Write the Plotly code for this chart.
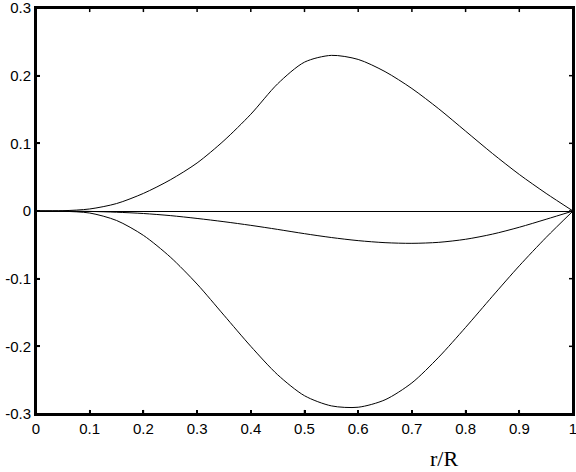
import plotly.graph_objects as go

r = [0.0, 0.05, 0.1, 0.15, 0.2, 0.25, 0.3, 0.35, 0.4, 0.45, 0.5, 0.55, 0.6,
     0.65, 0.7, 0.75, 0.8, 0.85, 0.9, 0.95, 1.0]
upper = [0.0, 0.0004, 0.003, 0.011, 0.026, 0.046, 0.071, 0.104, 0.143, 0.188,
         0.220, 0.230, 0.224, 0.206, 0.181, 0.151, 0.118, 0.085, 0.054, 0.026, 0.0]
middle = [0.0, -0.0001, -0.0006, -0.0018, -0.0037, -0.0068, -0.011, -0.0158, -0.0212,
          -0.0272, -0.0335, -0.0392, -0.0438, -0.0468, -0.0478, -0.0463, -0.0418, -0.0342,
          -0.0240, -0.0122, 0.0]
lower = [0.0, -0.0004, -0.003, -0.014, -0.036, -0.068, -0.108, -0.154, -0.200,
         -0.242, -0.273, -0.288, -0.290, -0.279, -0.254, -0.216, -0.172, -0.126,
         -0.081, -0.039, 0.0]

x_ticks = [0, 0.1, 0.2, 0.3, 0.4, 0.5, 0.6, 0.7, 0.8, 0.9, 1]
x_labels = ["0", "0.1", "0.2", "0.3", "0.4", "0.5", "0.6", "0.7", "0.8", "0.9", "1"]
y_ticks = [-0.3, -0.2, -0.1, 0, 0.1, 0.2, 0.3]
y_labels = ["-0.3", "-0.2", "-0.1", "0", "0.1", "0.2", "0.3"]

fig = go.Figure()
for ys in (upper, middle, lower):
    fig.add_trace(go.Scatter(x=r, y=ys, mode="lines",
                             line=dict(color="black", width=1, shape="spline", smoothing=0.8),
                             showlegend=False, hoverinfo="skip", cliponaxis=False))

tickfont = dict(family="Liberation Sans, Arial, sans-serif", size=15, color="black")

fig.update_xaxes(range=[0, 1], tickmode="array", tickvals=x_ticks, ticktext=x_labels,
                 showgrid=False, zeroline=False, showline=True, linecolor="black",
                 linewidth=2, mirror=True, ticks="inside", ticklen=4, tickwidth=1.5,
                 tickcolor="black", tickfont=tickfont, ticklabeloverflow="allow",
                 automargin=False)
fig.update_yaxes(range=[-0.3, 0.3], tickmode="array", tickvals=y_ticks, ticktext=y_labels,
                 showgrid=False, zeroline=True, zerolinecolor="black", zerolinewidth=1,
                 showline=True, linecolor="black", linewidth=2, mirror=True,
                 ticks="inside", ticklen=4, tickwidth=1.5, tickcolor="black",
                 tickfont=tickfont, ticklabeloverflow="allow", automargin=False)

# plot frame (axis box)
fig.add_shape(type="rect", xref="paper", yref="paper", x0=0, y0=0, x1=1, y1=1,
              line=dict(color="black", width=2), layer="above")

# inside tick marks on all four sides, placed at the axis tick values
TX = 0.0075   # tick length as a fraction of plot width (~4 px)
TY = 0.010    # tick length as a fraction of plot height (~4 px)
tick_line = dict(color="black", width=1.5)
for t in x_ticks[1:-1]:
    fig.add_shape(type="line", xref="x", yref="paper", x0=t, x1=t, y0=0, y1=TY,
                  line=tick_line, layer="above")
    fig.add_shape(type="line", xref="x", yref="paper", x0=t, x1=t, y0=1, y1=1 - TY,
                  line=tick_line, layer="above")
for t in y_ticks[1:-1]:
    fig.add_shape(type="line", xref="paper", yref="y", y0=t, y1=t, x0=0, x1=TX,
                  line=tick_line, layer="above")
    fig.add_shape(type="line", xref="paper", yref="y", y0=t, y1=t, x0=1, x1=1 - TX,
                  line=tick_line, layer="above")

fig.add_annotation(text="r/R", xref="paper", yref="paper", x=0.76, y=0,
                   yshift=-44, showarrow=False, xanchor="center", yanchor="middle",
                   font=dict(family="Liberation Serif, Times New Roman, serif", size=22, color="black"))

fig.update_layout(width=576, height=472, plot_bgcolor="white", paper_bgcolor="white",
                  margin=dict(l=36, r=3, t=8, b=58, autoexpand=False))

fig.write_html("out.html", config={"displayModeBar": False},
               post_script="document.body.style.margin='0';document.body.style.overflow='hidden';")
